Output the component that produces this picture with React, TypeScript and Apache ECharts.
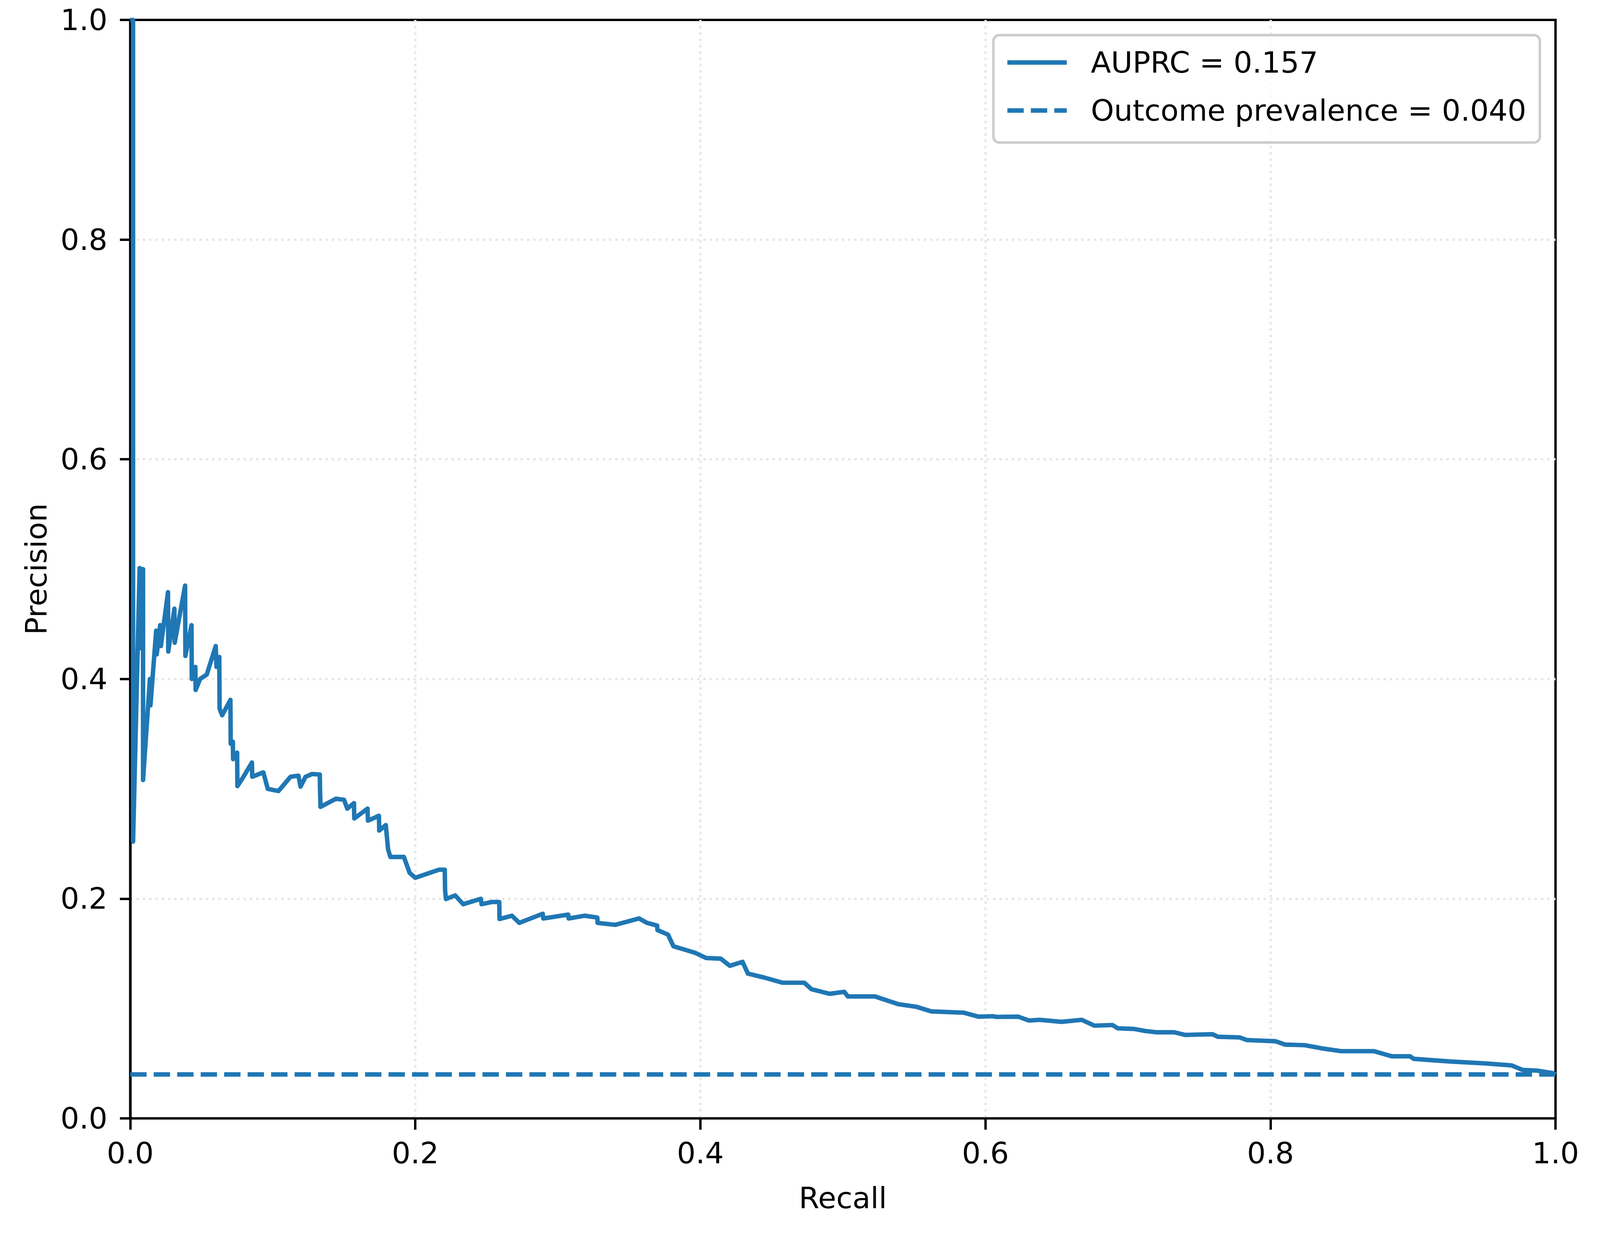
import React, { useEffect, useRef } from "react";
import * as echarts from "echarts";

// Precision-recall curve points (recall ascending)
const recallValues: number[] = [
  0.0, 0.002, 0.002, 0.0066, 0.0068, 0.0082, 0.009, 0.009, 0.0138, 0.0142,
  0.0182, 0.0186, 0.021, 0.0215, 0.0265, 0.0267, 0.031, 0.0312, 0.0385, 0.0387,
  0.043, 0.0432, 0.0457, 0.0459, 0.049, 0.0537, 0.06, 0.0605, 0.0625, 0.0627,
  0.0645, 0.0703, 0.0705, 0.072, 0.0722, 0.075, 0.0752, 0.079, 0.0854, 0.0856,
  0.0934, 0.0965, 0.104, 0.1125, 0.118, 0.1195, 0.123, 0.1276, 0.133, 0.1332,
  0.1335, 0.1443, 0.150, 0.1523, 0.157, 0.1572, 0.1665, 0.1668, 0.1745, 0.1747,
  0.1793, 0.1809, 0.1825, 0.192, 0.196, 0.2, 0.2167, 0.2207, 0.2209, 0.2215,
  0.228, 0.2336, 0.246, 0.2465, 0.2536, 0.2589, 0.2591, 0.2678, 0.273, 0.2894,
  0.2898, 0.3073, 0.3076, 0.3188, 0.3277, 0.3279, 0.3404, 0.357, 0.3625, 0.3697,
  0.3699, 0.3773, 0.3811, 0.3888, 0.3964, 0.4041, 0.4143, 0.4207, 0.4296, 0.4334,
  0.4448, 0.4576, 0.4729, 0.478, 0.4907, 0.501, 0.5035, 0.5225, 0.5391, 0.5518,
  0.562, 0.585, 0.5951, 0.6053, 0.6076, 0.623, 0.6305, 0.638, 0.6534, 0.6676,
  0.6765, 0.6891, 0.6929, 0.7044, 0.712, 0.7197, 0.7324, 0.7401, 0.7593, 0.7631,
  0.7783, 0.7834, 0.8037, 0.8101, 0.8241, 0.8368, 0.8496, 0.8725, 0.8852, 0.898,
  0.9005, 0.9259, 0.9514, 0.9693, 0.9769, 0.9871, 0.9985, 1.0,
];

const precisionValues: number[] = [
  1.0, 1.0, 0.252, 0.501, 0.428, 0.5, 0.5, 0.308, 0.4, 0.376,
  0.444, 0.4225, 0.449, 0.43, 0.479, 0.425, 0.464, 0.433, 0.485, 0.421,
  0.449, 0.4, 0.411, 0.39, 0.4, 0.404, 0.43, 0.411, 0.42, 0.373,
  0.367, 0.381, 0.341, 0.343, 0.327, 0.333, 0.3025, 0.31, 0.324, 0.311,
  0.315, 0.3, 0.298, 0.311, 0.312, 0.302, 0.311, 0.3135, 0.313, 0.298,
  0.2836, 0.291, 0.29, 0.282, 0.287, 0.273, 0.282, 0.271, 0.2755, 0.262,
  0.267, 0.245, 0.238, 0.238, 0.2236, 0.219, 0.2264, 0.2264, 0.208, 0.1997,
  0.203, 0.195, 0.1999, 0.195, 0.197, 0.197, 0.1815, 0.1845, 0.178, 0.1863,
  0.182, 0.1855, 0.182, 0.1845, 0.1828, 0.178, 0.1762, 0.182, 0.178, 0.1755,
  0.1714, 0.1673, 0.1567, 0.1537, 0.1507, 0.146, 0.1454, 0.1389, 0.1425, 0.1318,
  0.1282, 0.1235, 0.1235, 0.1176, 0.1134, 0.1152, 0.111, 0.111, 0.1039, 0.1015,
  0.0974, 0.0962, 0.0926, 0.093, 0.0924, 0.0926, 0.0891, 0.0897, 0.0879, 0.0897,
  0.0844, 0.085, 0.082, 0.0814, 0.0796, 0.0784, 0.0784, 0.076, 0.0766, 0.0743,
  0.0737, 0.0713, 0.0702, 0.0672, 0.0666, 0.0636, 0.0612, 0.0612, 0.0565, 0.0565,
  0.0542, 0.0518, 0.05, 0.0482, 0.0441, 0.0435, 0.0411, 0.04,
];

const prevalenceRecall: number[] = [0, 1];
const prevalenceValue = 0.04;

const curveLabel = "AUPRC = 0.157";
const prevalenceLabel = "Outcome prevalence = 0.040";
const axisTicks: number[] = [0, 0.2, 0.4, 0.6, 0.8, 1.0];

const FONT = "DejaVu Sans";
const BLUE = "#1f77b4";
const REF_W = 4497;
const REF_H = 3178;

export default function App() {
  const ref = useRef<HTMLDivElement>(null);

  useEffect(() => {
    if (!ref.current) return;
    const W = window.innerWidth || REF_W;
    const H = window.innerHeight || REF_H;
    const sx = W / REF_W;
    const sy = H / REF_H;
    const s = sx;
    const chart = echarts.init(ref.current, undefined, { renderer: "svg" });

    const FS = 83 * s;
    const LW_AX = 6.7 * s;
    const LW = 12.5 * s;

    const curveData = recallValues.map((r, i) => [r, precisionValues[i]]);
    const prevData = prevalenceRecall.map((r) => [r, prevalenceValue]);

    const axisCommon = {
      type: "value" as const,
      min: axisTicks[0],
      max: axisTicks[axisTicks.length - 1],
      interval: 0.2,
      axisLine: { show: true, lineStyle: { color: "#000", width: LW_AX } },
      axisTick: {
        show: true,
        inside: false,
        lineStyle: { color: "#000", width: LW_AX },
      },
      splitLine: {
        show: true,
        showMinLine: false,
        showMaxLine: false,
        lineStyle: {
          color: "#e7e7e7",
          width: LW_AX,
          type: [6.7 * s, 11 * s] as any,
        },
      },
      nameLocation: "middle" as const,
      nameTextStyle: {
        fontFamily: FONT,
        fontSize: FS,
        color: "#000",
        lineHeight: FS,
      },
    };

    const labelCommon = {
      fontFamily: FONT,
      fontSize: FS,
      color: "#000",
      lineHeight: FS,
      formatter: (v: number) => v.toFixed(1),
    };

    chart.setOption({
      animation: false,
      backgroundColor: "#ffffff",
      textStyle: { fontFamily: FONT },
      grid: {
        left: 366 * sx,
        right: (REF_W - 4372) * sx,
        top: 51 * sy,
        bottom: (REF_H - 2864) * sy,
        show: true,
        borderColor: "#000",
        borderWidth: LW_AX,
        backgroundColor: "transparent",
        containLabel: false,
      },
      xAxis: {
        ...axisCommon,
        axisTick: { ...axisCommon.axisTick, length: 29 * sy },
        name: "Recall",
        nameGap: 166 * sy,
        axisLabel: { ...labelCommon, margin: 51 * sy },
      },
      yAxis: {
        ...axisCommon,
        axisTick: { ...axisCommon.axisTick, length: 29 * sx },
        name: "Precision",
        nameGap: 222 * sx,
        nameRotate: 90,
        axisLabel: { ...labelCommon, margin: 64 * sx },
      },
      legend: {
        show: true,
        orient: "vertical",
        right: (REF_W - 4328) * sx,
        top: 90 * sy,
        padding: [20 * sy, 38 * sx, 32 * sy, 33 * sx],
        itemGap: 23 * sy,
        itemWidth: 167 * sx,
        itemHeight: 14 * sy,
        backgroundColor: "rgba(255,255,255,0.8)",
        borderColor: "#cccccc",
        borderWidth: 7 * s,
        borderRadius: 17 * s,
        itemStyle: { opacity: 0 },
        lineStyle: { width: LW },
        textStyle: {
          fontFamily: FONT,
          fontSize: FS,
          color: "#000",
          lineHeight: 100 * sy,
          padding: [0, 0, 0, 62 * sx],
        },
        data: [curveLabel, prevalenceLabel],
      },
      series: [
        {
          name: curveLabel,
          type: "line",
          data: curveData,
          showSymbol: false,
          symbol: "none",
          lineStyle: { color: BLUE, width: LW, join: "round", cap: "butt" },
          itemStyle: { color: BLUE },
          z: 3,
        },
        {
          name: prevalenceLabel,
          type: "line",
          data: prevData,
          showSymbol: false,
          symbol: "none",
          lineStyle: { color: BLUE, width: LW, type: [46 * s, 20 * s] },
          itemStyle: { color: BLUE },
          z: 2,
        },
      ],
    });

    return () => {
      chart.dispose();
    };
  }, []);

  return (
    <div
      ref={ref}
      style={{
        position: "fixed",
        left: 0,
        top: 0,
        width: "100vw",
        height: "100vh",
        background: "#fff",
      }}
    />
  );
}
